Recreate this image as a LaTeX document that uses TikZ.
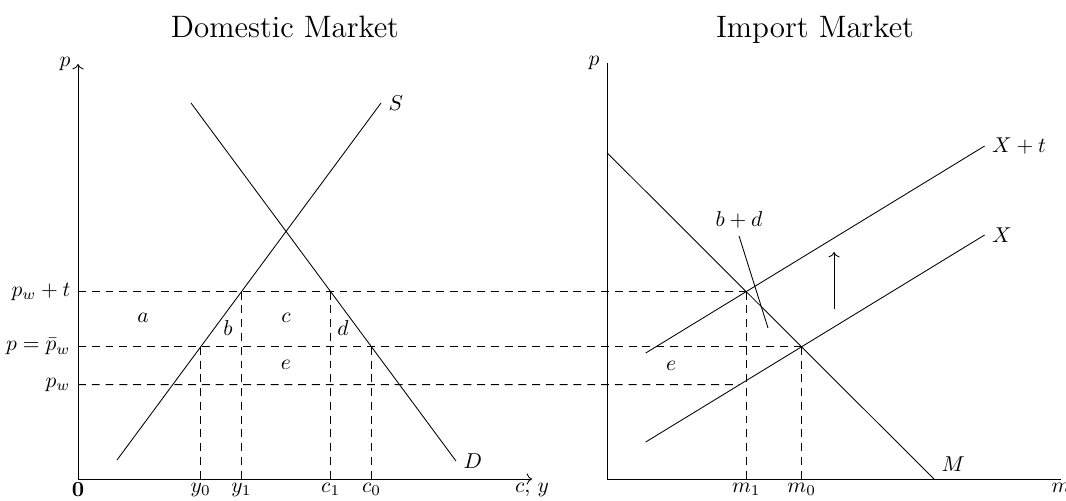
\documentclass[tikz,border=0pt]{standalone}
\usepackage{tikz}
\usetikzlibrary{arrows.meta}
\tikzstyle{curve} = [thin, black]
\tikzstyle{axis} = [thin, ->]
\tikzstyle{guide} = [thin, dash pattern=on 3.7pt off 2.7pt]
\tikzstyle{ticklab} = [below, inner sep=1.6pt]
\tikzstyle{title} = [anchor=base, font=\Large]

\begin{document}
\begin{tikzpicture}[x=0.465pt, y=-0.465pt]
        \useasboundingbox (0,0) rectangle (1066,500);

        % Titles
        \node (domtitle) [title] at (285,37) {Domestic Market};
        \node (imptitle) [title] at (815,37) {Import Market};

        % Domestic axes
        \coordinate (dorig) at (78,479);
        \coordinate (dtopax) at (78,64);
        \coordinate (dendax) at (532,479);
        \draw [axis] (dorig) -- (dtopax);
        \draw [axis] (dorig) -- (dendax);

        % Import axes
        \coordinate (iorig) at (607,479);
        \coordinate (itopax) at (607,63);
        \coordinate (iendax) at (1061,479);
        \draw [curve] (itopax) -- (iorig) -- (iendax);

        % Supply and demand
        \coordinate (sbot) at (117,460);
        \coordinate (stop) at (381,103);
        \coordinate (dtop) at (191,103);
        \coordinate (dbot) at (456,461);
        \draw [curve] (sbot) -- (stop);
        \draw [curve] (dtop) -- (dbot);

        % Import demand and export supply
        \coordinate (mtop) at (607,152.7);
        \coordinate (mbot) at (934,479);
        \coordinate (xtlo) at (645.7,353);
        \coordinate (xthi) at (984.6,146);
        \coordinate (xlo) at (645.7,442);
        \coordinate (xhi) at (984.6,235);
        \draw [curve] (mtop) -- (mbot);
        \draw [curve] (xtlo) -- (xthi);
        \draw [curve] (xlo) -- (xhi);

        % Equilibria in the import market
        \coordinate (eqone) at (intersection of mtop--mbot and xtlo--xthi);
        \coordinate (eqzero) at (intersection of mtop--mbot and xlo--xhi);
        \coordinate (pwl) at (78,384.6);
        \coordinate (pwr) at (1000,384.6);
        \coordinate (eqw) at (intersection of pwl--pwr and xlo--xhi);
        \coordinate (ptl) at (dorig |- eqone);
        \coordinate (pbl) at (dorig |- eqzero);

        % Price levels
        \draw [guide] (ptl) -- (eqone);
        \draw [guide] (pbl) -- (eqzero);
        \draw [guide] (pwl) -- (eqw);

        % Quantities
        \coordinate (yone) at (intersection of sbot--stop and ptl--eqone);
        \coordinate (cone) at (intersection of dtop--dbot and ptl--eqone);
        \coordinate (yzero) at (intersection of sbot--stop and pbl--eqzero);
        \coordinate (czero) at (intersection of dtop--dbot and pbl--eqzero);
        \draw [guide] (yzero) -- (yzero |- dorig);
        \draw [guide] (yone) -- (yone |- dorig);
        \draw [guide] (cone) -- (cone |- dorig);
        \draw [guide] (czero) -- (czero |- dorig);
        \draw [guide] (eqone) -- (eqone |- iorig);
        \draw [guide] (eqzero) -- (eqzero |- iorig);

        % Axis labels
        \node (lpd) [left] at (dtopax) {$p$};
        \node (lpi) [left] at (itopax) {$p$};
        \node (lzero) [ticklab] at (dorig) {\textbf{0}};
        \node (lcy) [ticklab] at (dendax) {$c,\,y$};
        \node (lm) [ticklab] at (iendax) {$m$};
        \node (lpwt) [left] at (ptl) {$p_w + t$};
        \node (lpbar) [left] at (pbl) {$p = \bar{p}_w$};
        \node (lpw) [left] at (pwl) {$p_w$};
        \node (lyzero) [ticklab] at (yzero |- dorig) {$y_0$};
        \node (lyone) [ticklab] at (yone |- dorig) {$y_1$};
        \node (lcone) [ticklab] at (cone |- dorig) {$c_1$};
        \node (lczero) [ticklab] at (czero |- dorig) {$c_0$};
        \node (lmone) [ticklab] at (eqone |- iorig) {$m_1$};
        \node (lmzero) [ticklab] at (eqzero |- iorig) {$m_0$};

        % Curve labels
        \node (ls) [right] at (stop) {$S$};
        \node (ld) [right] at (dbot) {$D$};
        \node (lmc) [above right] at (mbot) {$M$};
        \node (lxt) [right] at (xthi) {$X + t$};
        \node (lx) [right] at (xhi) {$X$};

        % Areas
        \node (areaa) at (143,318) {$a$};
        \node (areab) at (228,328) {$b$};
        \node (areac) at (286,318) {$c$};
        \node (aread) at (343,328) {$d$};
        \node (areae) at (286,365) {$e$};
        \node (areaei) at (671,366) {$e$};
        \node (areabd) at (739,220) {$b + d$};
        \coordinate (bdtip) at (768,328);
        \draw [curve] (areabd.south) -- (bdtip);

        % Tariff shift
        \coordinate (shiftlo) at (834,309);
        \coordinate (shifthi) at (834,252);
        \draw [axis] (shiftlo) -- (shifthi);
    \end{tikzpicture}
\end{document}
